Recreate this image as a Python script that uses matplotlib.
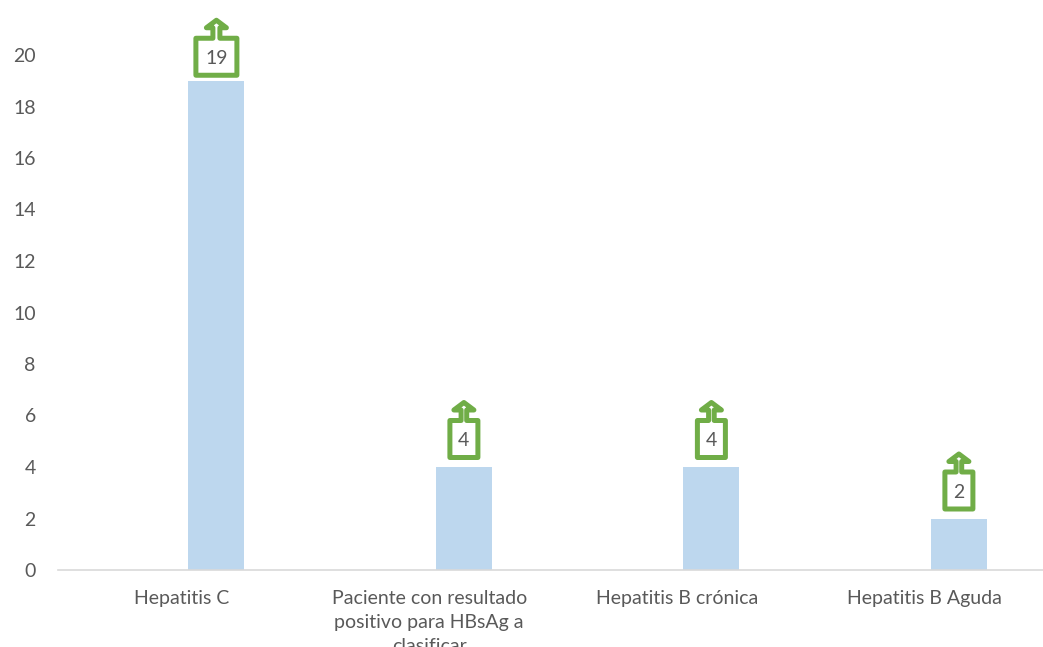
import matplotlib
matplotlib.use("Agg")
import matplotlib.pyplot as plt
from matplotlib.path import Path
from matplotlib.patches import PathPatch
from matplotlib.transforms import Affine2D, ScaledTranslation

categories = ["Hepatitis C",
              "Paciente con resultado\npositivo para HBsAg a\nclasificar",
              "Hepatitis B crónica",
              "Hepatitis B Aguda"]
values = [19, 4, 4, 2]
yticks = list(range(0, 21, 2))

TEXT = "#595959"
BAR = "#BDD7EE"
GREEN = "#70AD47"
W, H = 1043, 647

plt.rcParams["font.family"] = ["Lato", "DejaVu Sans"]


def callout(half, stem, lift):
    # up arrow callout, pixels relative to the top centre of the bar
    bot, top, neck, tip = 5.5 + lift, 42.5 + lift, 53 + lift, 60.5 + lift
    head = 10
    verts = [(-half, bot), (half, bot), (half, top), (stem, top), (stem, neck),
             (head, neck), (0, tip), (-head, neck), (-stem, neck), (-stem, top),
             (-half, top), (-half, bot)]
    codes = [Path.MOVETO] + [Path.LINETO] * 10 + [Path.CLOSEPOLY]
    return Path(verts, codes)


fig = plt.figure(figsize=(W / 100, H / 100), dpi=100)
ax = fig.add_axes([58 / W, (H - 570) / H, 990 / W, 515 / H])

x = list(range(len(values)))
bar_x = [i + 0.14 for i in x]
ax.bar(bar_x, values, width=0.226, color=BAR, zorder=2)

ax.set_xlim(-0.5, 3.5)
ax.set_ylim(0, 20)
ax.set_yticks(yticks)
ax.set_xticks(x)
ax.set_xticklabels(categories, linespacing=1.5)
ax.tick_params(axis="both", length=0, labelsize=14, labelcolor=TEXT)
ax.tick_params(axis="y", pad=16)
ax.tick_params(axis="x", pad=14.5)
for s in ["top", "right", "left"]:
    ax.spines[s].set_visible(False)
ax.spines["bottom"].set_color("#D9D9D9")
ax.spines["bottom"].set_linewidth(1.2)

for bx, v in zip(bar_x, values):
    big = v >= 10
    half = 20.5 if big else 14
    stem = 3.5 if big else 2.8
    lift = 0 if big else 4
    tr = Affine2D() + ScaledTranslation(bx, v, ax.transData)
    ax.add_patch(PathPatch(callout(half, stem, lift), transform=tr, facecolor="white",
                           edgecolor=GREEN, lw=3.6, joinstyle="round",
                           clip_on=False, zorder=3))
    ax.annotate(str(v), (bx, v), xytext=(0, (22.5 + lift) * 0.72), textcoords="offset points",
                ha="center", va="center", fontsize=14, color=TEXT, zorder=4)

fig.savefig("out.png", dpi=100)
